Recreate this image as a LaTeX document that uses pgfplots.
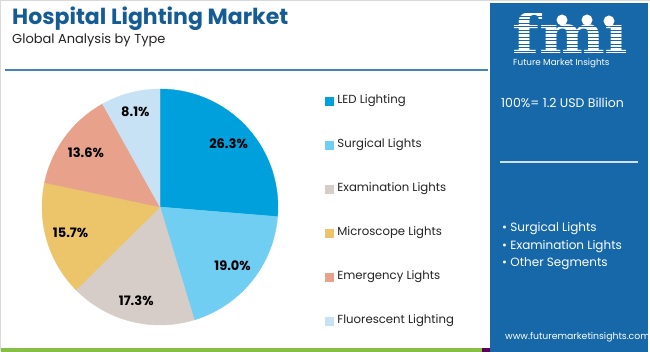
\documentclass[border=0pt]{standalone}
\usepackage{fontspec}
\setmainfont{Poppins}
\newfontfamily\logofont{DejaVu Serif}
\usepackage{pgfplots}
\usepackage{pgfplotstable}
\pgfplotsset{compat=1.18}

\definecolor{cLED}{RGB}{0,160,220}
\definecolor{cSurg}{RGB}{112,206,242}
\definecolor{cExam}{RGB}{214,205,200}
\definecolor{cMicro}{RGB}{236,197,106}
\definecolor{cEmer}{RGB}{232,161,138}
\definecolor{cFluo}{RGB}{198,226,244}
\definecolor{panel}{RGB}{22,104,168}
\definecolor{titleblue}{RGB}{22,92,148}
\definecolor{rulec}{RGB}{70,130,190}
\definecolor{textc}{RGB}{35,35,35}
\definecolor{greenbar}{RGB}{135,190,70}

\pgfplotstableread{
name value
LED 26.3
Surgical 19.0
Examination 17.3
Microscope 15.7
Emergency 13.6
Fluorescent 8.1
}\pietable

\begin{document}
\begin{tikzpicture}[x=1pt,y=1pt]
\pgfplotstablegetelem{0}{value}\of\pietable \let\vA\pgfplotsretval
\pgfplotstablegetelem{1}{value}\of\pietable \let\vB\pgfplotsretval
\pgfplotstablegetelem{2}{value}\of\pietable \let\vC\pgfplotsretval
\pgfplotstablegetelem{3}{value}\of\pietable \let\vD\pgfplotsretval
\pgfplotstablegetelem{4}{value}\of\pietable \let\vE\pgfplotsretval
\pgfplotstablegetelem{5}{value}\of\pietable \let\vF\pgfplotsretval
\pgfmathsetmacro\aO{90}
\pgfmathsetmacro\aA{\aO-3.6*\vA}
\pgfmathsetmacro\aB{\aA-3.6*\vB}
\pgfmathsetmacro\aC{\aB-3.6*\vC}
\pgfmathsetmacro\aD{\aC-3.6*\vD}
\pgfmathsetmacro\aE{\aD-3.6*\vE}
\pgfmathsetmacro\aF{\aE-3.6*\vF}
\pgfmathsetmacro\mA{(\aO+\aA)/2}
\pgfmathsetmacro\mB{(\aA+\aB)/2}
\pgfmathsetmacro\mC{(\aB+\aC)/2}
\pgfmathsetmacro\mD{(\aC+\aD)/2}
\pgfmathsetmacro\mE{(\aD+\aE)/2}
\pgfmathsetmacro\mF{(\aE+\aF)/2}

% page frame
\useasboundingbox (0,0) rectangle (650,352);
\fill[white] (0,0) rectangle (650,352);
\draw[black!15, line width=0.8] (0.5,0.5) -- (0.5,351.5) -- (649.5,351.5);
\fill[greenbar] (1,0) rectangle (482,3.5);
\fill[violet!70!black] (482,0) rectangle (490,3.5);

% titles
\node[anchor=base west, inner sep=0, text=titleblue, font=\bfseries\fontsize{22}{22}\selectfont] at (12,327) {Hospital Lighting Market};
\node[anchor=base west, inner sep=0, text=textc, font=\fontsize{13}{13}\selectfont] at (12,308) {Global Analysis by Type};
\draw[rulec, line width=2] (5,282) -- (488,282);

% right panel
\fill[panel] (490,0) rectangle (648,349);
\node[anchor=base west, inner sep=0, text=white, xscale=1.48, yscale=1.286, font=\logofont\bfseries\fontsize{42}{42}\selectfont] at (512,298.5) {fm\char"0131};
\foreach \yy in {301,304.5,...,340} {\draw[panel, line width=0.8] (508,\yy) -- (630,\yy);}
\fill[white] (562,332) circle (5.5);
\fill[white] (587,332) circle (5.5);
\fill[white] (609,331) circle (5.5);
\node[anchor=base west, inner sep=0, text=white, font=\fontsize{8.8}{9}\selectfont] at (513,286) {Future Market Insights};
\node[anchor=base west, inner sep=0, text=white, font=\fontsize{12.5}{13}\selectfont] at (501,244) {100\%= 1.2 USD Billion};
\draw[white!80!panel, line width=1.5] (500,190) -- (638,190);
\node[anchor=base west, inner sep=0, text=white, font=\fontsize{12}{13}\selectfont] at (502,120) {\textbullet\ Surgical Lights};
\node[anchor=base west, inner sep=0, text=white, font=\fontsize{12}{13}\selectfont] at (502,102) {\textbullet\ Examination Lights};
\node[anchor=base west, inner sep=0, text=white, font=\fontsize{12}{13}\selectfont] at (502,85) {\textbullet\ Other Segments};
\node[anchor=base west, inner sep=0, text=white, font=\fontsize{9.3}{10}\selectfont] at (505,12) {www.futuremarketinsights.com};

\begin{axis}[
  at={(160pt,145pt)}, anchor=center,
  scale only axis, width=236pt, height=236pt,
  xmin=-1, xmax=1, ymin=-1, ymax=1,
  hide axis, clip=false,
  legend cell align=left,
  legend image code/.code={\fill[#1] (0pt,-4pt) rectangle (8pt,4pt);},
  legend style={draw=none, fill=none, at={(axis description cs:1.186,0.985)}, anchor=north west,
    font=\fontsize{11.7}{12}\selectfont, text=textc,
    nodes={inner sep=0pt, text height=9pt, text depth=3pt},
    row sep=32pt, column sep=4pt},
]
\addplot[fill=cLED, draw=cLED, line width=0.3pt, domain=\aA:\aO, samples=80] ({cos(x)},{sin(x)}) -- (axis cs:0,0) -- cycle;
\addlegendentry{LED Lighting}
\addplot[fill=cSurg, draw=cSurg, line width=0.3pt, domain=\aB:\aA, samples=60] ({cos(x)},{sin(x)}) -- (axis cs:0,0) -- cycle;
\addlegendentry{Surgical Lights}
\addplot[fill=cExam, draw=cExam, line width=0.3pt, domain=\aC:\aB, samples=60] ({cos(x)},{sin(x)}) -- (axis cs:0,0) -- cycle;
\addlegendentry{Examination Lights}
\addplot[fill=cMicro, draw=cMicro, line width=0.3pt, domain=\aD:\aC, samples=60] ({cos(x)},{sin(x)}) -- (axis cs:0,0) -- cycle;
\addlegendentry{Microscope Lights}
\addplot[fill=cEmer, draw=cEmer, line width=0.3pt, domain=\aE:\aD, samples=60] ({cos(x)},{sin(x)}) -- (axis cs:0,0) -- cycle;
\addlegendentry{Emergency Lights}
\addplot[fill=cFluo, draw=cFluo, line width=0.3pt, domain=\aF:\aE, samples=40] ({cos(x)},{sin(x)}) -- (axis cs:0,0) -- cycle;
\addlegendentry{Fluorescent Lighting}

\pgfmathsetmacro\lr{0.79}
\node[font=\bfseries\fontsize{13}{13}\selectfont, text=black] at (axis cs:{\lr*cos(\mA)},{\lr*sin(\mA)}) {26.3\%};
\node[font=\bfseries\fontsize{13}{13}\selectfont, text=black] at (axis cs:{\lr*cos(\mB)},{\lr*sin(\mB)}) {19.0\%};
\node[font=\bfseries\fontsize{13}{13}\selectfont, text=black] at (axis cs:{0.82*cos(\mC)},{0.82*sin(\mC)}) {17.3\%};
\node[font=\bfseries\fontsize{13}{13}\selectfont, text=black] at (axis cs:{\lr*cos(\mD)},{\lr*sin(\mD)}) {15.7\%};
\node[font=\bfseries\fontsize{13}{13}\selectfont, text=black] at (axis cs:{0.78*cos(\mE)},{0.78*sin(\mE)}) {13.6\%};
\node[font=\bfseries\fontsize{13}{13}\selectfont, text=black] at (axis cs:{0.83*cos(\mF)},{0.83*sin(\mF)}) {8.1\%};
\end{axis}
\end{tikzpicture}
\end{document}
